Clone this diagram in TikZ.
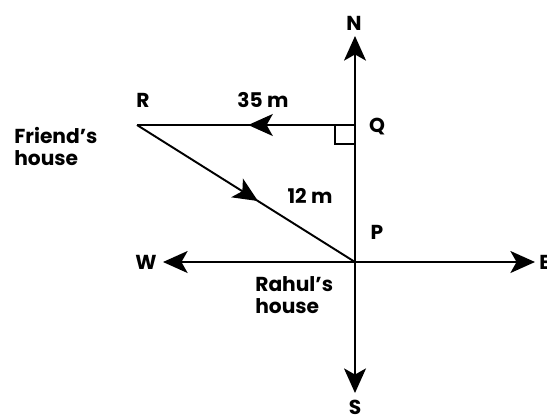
\documentclass[tikz,border=0pt]{standalone}
\usepackage{fontspec}
\setmainfont{Poppins}
\usepackage{tikz}
\usetikzlibrary{positioning,arrows.meta,decorations.markings,calc}
\tikzset{
  >={Stealth[length=14pt,width=12.5pt,inset=3.5pt]},
  axis/.style={->,line width=1.1pt},
  leg/.style={line width=1.1pt},
  lbl/.style={font=\fontsize{11.5}{12.5}\selectfont\bfseries,inner sep=0pt},
  midarrow/.style={postaction={decorate},
    decoration={markings,mark=at position #1 with {\arrow{>}}}},
}
\begin{document}
\begin{tikzpicture}[x=0.02cm,y=-0.02cm]
\useasboundingbox (0,0) rectangle (547,414);
\coordinate (P) at (355,262);
\coordinate (Q) at (355,125);
\coordinate (R) at (137,125);
\coordinate (nTip) at (355,36);
\coordinate (sTip) at (355,393);
\coordinate (wTip) at (163,262);
\coordinate (eTip) at (535,262);

\node[lbl] (n) at (354,23) {N};
\node[lbl] (s) at (355,407) {S};
\node[lbl] (w) at (146,262) {W};
\node[lbl,anchor=west] (e) at (539,262) {E};
\node[lbl] (q) at (377,127) {Q};
\node[lbl] (r) at (143,100) {R};
\node[lbl] (p) at (377,232) {P};
\node[lbl] (d35) at (263,100) {35 m};
\node[lbl] (d12) at (310,196) {12 m};
\node[lbl,align=left,anchor=west] (friend) at (14,146) {Friend’s\\house};
\node[lbl,align=left,anchor=west] (rahul) at (255,295) {Rahul’s\\house};

% compass
\draw[axis] (P) -- (nTip);
\draw[axis] (P) -- (sTip);
\draw[axis] (P) -- (wTip);
\draw[axis] (P) -- (eTip);

% walk
\draw[leg,midarrow=0.49] (Q) -- (R);
\draw[leg,midarrow=0.555] (R) -- (P);
\draw[leg] ($(Q)+(-20,0)$) |- ($(Q)+(0,19)$);
\end{tikzpicture}
\end{document}
